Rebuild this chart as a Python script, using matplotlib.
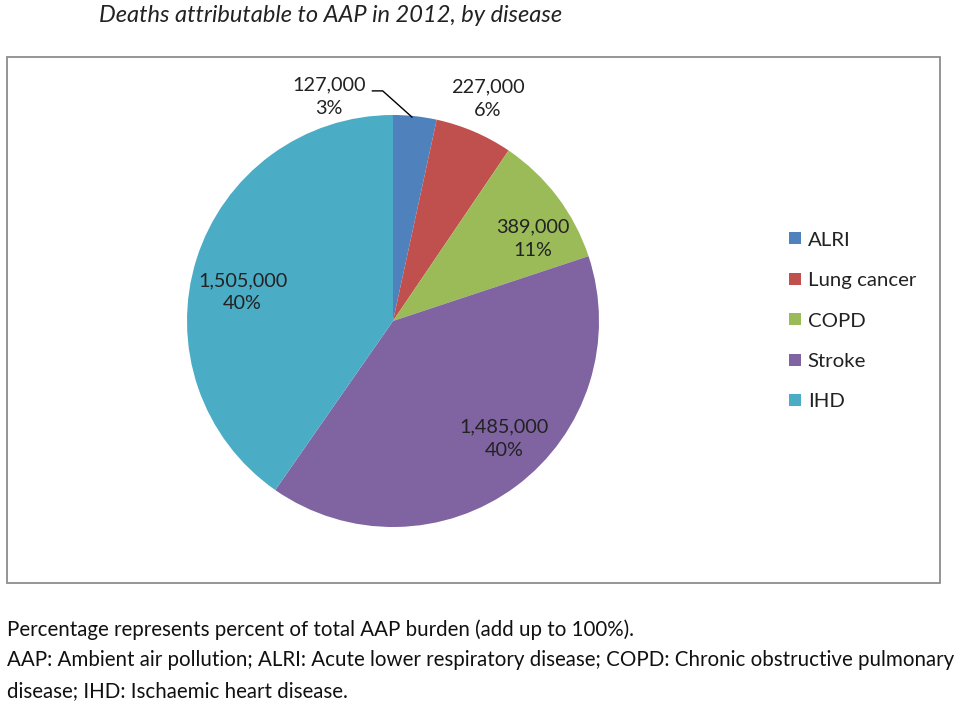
import matplotlib.pyplot as plt
from matplotlib.patches import Rectangle
from matplotlib.lines import Line2D

# Data
diseases = ["ALRI", "Lung cancer", "COPD", "Stroke", "IHD"]
deaths = [127000, 227000, 389000, 1485000, 1505000]
pct_labels = ["3%", "6%", "11%", "40%", "40%"]
colors = ["#4F81BD", "#C0504D", "#9BBB59", "#8064A2", "#4BACC6"]

# label positions in pie units (Excel "best fit" placement)
label_xy = [(-0.31, 1.09), (0.46, 1.08), (0.68, 0.40), (0.54, -0.57), (-0.73, 0.14)]

plt.rcParams["font.family"] = ["Lato", "DejaVu Sans"]

fig = plt.figure(figsize=(9.57, 7.05), dpi=100)

# chart border
fig.patches.append(Rectangle((7 / 957, 1 - 583 / 705), 933 / 957, 526 / 705,
                             transform=fig.transFigure, fill=False,
                             edgecolor="#8C8C8C", linewidth=1.3))

fig.text(331 / 957, 1 - 15 / 705, "Deaths attributable to AAP in 2012, by disease",
         ha="center", va="center", fontsize=17, style="italic", color="#222222")

ax = fig.add_axes([187 / 957, 1 - 527 / 705, 412 / 957, 412 / 705])
wedges, _ = ax.pie(deaths, colors=colors, startangle=90, counterclock=False,
                   radius=1, wedgeprops=dict(linewidth=0))
ax.set_xlim(-1, 1)
ax.set_ylim(-1, 1)
ax.set_aspect("equal")

for (x, y), d, p in zip(label_xy, deaths, pct_labels):
    ax.text(x, y, f"{d:,}\n{p}", ha="center", va="center", fontsize=14.3,
            color="#222222", linespacing=1.45)

# leader line for ALRI
ax.add_line(Line2D([-0.10, -0.05, 0.092], [1.117, 1.117, 0.99],
                   color="black", linewidth=1, clip_on=False))

handles = [Rectangle((0, 0), 1, 1, facecolor=c) for c in colors]
fig.legend(handles, diseases, loc="center left",
           bbox_to_anchor=(771 / 957, 1 - 321 / 705), frameon=False,
           fontsize=14.7, handlelength=0.55, handleheight=0.55,
           handletextpad=0.35, labelspacing=1.15, labelcolor="#222222")

foot = ["Percentage represents percent of total AAP burden (add up to 100%).",
        "AAP: Ambient air pollution; ALRI: Acute lower respiratory disease; COPD: Chronic obstructive pulmonary",
        "disease; IHD: Ischaemic heart disease."]
for i, line in enumerate(foot):
    fig.text(7 / 957, 1 - (630 + i * 30.5) / 705, line, ha="left", va="center",
             fontsize=14.8, color="#111111")

fig.savefig("out.png", dpi=100)
